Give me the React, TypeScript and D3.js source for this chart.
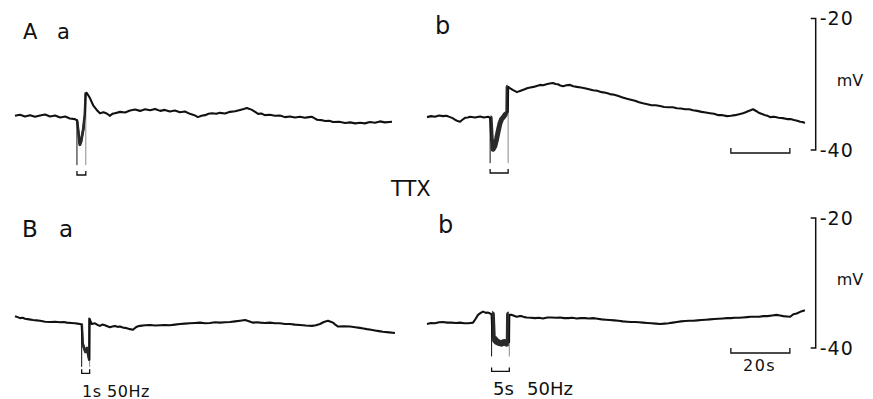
import React from "react"
import * as d3 from "d3"

// ── Data (time in s, membrane potential in mV) ────────────────────────────────

type Pt = [number, number]

const traceAa: Pt[] = [
  [0, -34.8], [1.7, -34.65], [3.4, -34.9], [5.1, -34.7], [6.8, -34.95], [8.5, -34.75], [10.2, -34.6],
  [11.9, -34.9], [13.6, -34.75], [15.3, -35.05], [17.0, -34.9], [18.6, -35.2], [20.3, -35.3], [21.0, -35.5],
  [21.1, -35.8], [21.4, -37.0], [21.8, -38.7], [22.0, -39.2], [22.4, -38.7], [22.8, -37.7], [23.2, -36.7],
  [23.5, -35.4], [23.7, -34.7], [24.0, -31.4],
  [24.3, -31.3], [25.4, -32.1], [26.5, -33.2], [27.7, -33.9], [28.8, -34.4], [30.0, -34.25], [31.1, -34.45],
  [32.2, -34.8], [33.0, -34.5], [33.9, -34.4], [35.6, -34.2], [37.3, -34.3], [39.0, -34.0], [40.7, -33.85],
  [42.4, -34.05], [44.1, -33.8], [45.8, -33.95], [47.5, -33.75], [49.2, -34.05], [50.8, -33.9], [52.5, -34.15],
  [54.2, -34.0], [55.9, -34.25], [57.6, -34.15], [59.3, -34.5], [60.8, -34.7], [62.0, -35.0], [63.2, -34.8],
  [64.4, -34.7], [65.6, -34.5], [66.8, -34.4], [68.2, -34.5], [69.5, -34.35], [71.2, -34.45], [72.9, -34.2],
  [74.6, -34.1], [76.3, -33.9], [77.5, -33.75], [78.6, -33.6], [79.5, -33.75], [80.3, -33.9], [81.4, -34.2],
  [82.4, -34.5], [83.5, -34.45], [84.7, -34.7], [86.4, -34.65], [88.1, -34.8], [89.8, -34.75], [91.5, -35.0],
  [93.2, -34.9], [94.9, -35.05], [96.6, -34.95], [98.3, -35.1], [99.6, -35.0], [100.7, -34.95], [101.6, -35.2],
  [102.4, -35.4], [103.8, -35.45], [105.1, -35.6], [106.5, -35.55], [107.8, -35.75], [109.9, -35.7], [111.9, -35.9],
  [113.6, -35.8], [115.3, -35.95], [117.0, -35.85], [118.6, -35.95], [120.3, -35.75], [122.0, -35.85],
  [123.7, -35.65], [125.4, -35.8], [127.8, -35.7],
]

const traceAb: Pt[] = [
  [0, -35.0], [1.4, -34.85], [2.7, -34.95], [4.1, -34.75], [5.4, -34.85], [6.6, -34.8], [7.8, -35.0],
  [8.7, -35.15], [9.5, -35.4], [10.4, -35.6], [11.2, -35.7], [12.0, -35.4], [12.9, -35.1], [13.8, -35.05],
  [14.6, -34.95], [16.3, -35.05], [18.0, -34.9], [19.3, -35.05], [20.7, -34.95], [21.4, -35.1],
  [21.8, -38.5], [22.4, -39.9], [23.0, -39.4], [23.6, -38.3], [24.2, -37.0], [24.7, -36.0], [25.3, -35.3],
  [25.9, -35.0], [26.5, -34.6], [27.1, -34.4], [27.4, -34.2],
  [27.5, -30.4], [28.1, -30.6], [29.2, -30.9], [30.5, -31.2], [31.3, -31.05], [32.2, -30.9], [33.1, -30.75],
  [33.9, -30.6], [35.0, -30.5], [36.1, -30.4], [37.2, -30.25], [38.3, -30.1], [39.4, -30.15], [40.5, -30.0],
  [41.6, -29.9], [42.7, -29.8], [43.6, -29.95], [44.4, -30.0], [45.2, -30.2], [46.1, -30.3], [47.3, -30.15],
  [48.5, -30.1], [49.6, -30.3], [50.8, -30.4], [52.2, -30.5], [53.5, -30.6], [54.9, -30.75], [56.3, -30.9],
  [57.7, -31.0], [59.2, -31.2], [60.6, -31.3], [62.0, -31.5], [63.5, -31.6], [64.9, -31.8], [66.3, -32.0],
  [67.8, -32.2], [69.1, -32.35], [70.5, -32.5], [71.9, -32.75], [73.2, -32.9], [74.7, -33.05], [76.1, -33.2],
  [77.5, -33.2], [79.0, -33.3], [80.4, -33.45], [81.9, -33.5], [83.3, -33.5], [84.7, -33.65], [86.1, -33.7],
  [87.5, -33.8], [88.9, -33.8], [90.2, -33.95], [91.6, -34.05], [93.1, -34.2], [94.5, -34.3], [95.9, -34.4],
  [97.3, -34.5], [98.8, -34.7], [100.2, -34.7], [101.7, -34.85], [103.0, -34.8], [104.4, -34.7], [105.8, -34.55],
  [107.1, -34.4], [108.0, -34.25], [108.8, -34.1], [109.7, -33.95], [110.5, -33.8], [111.1, -33.95],
  [111.7, -34.1], [112.3, -34.3], [112.9, -34.4], [113.8, -34.55], [114.6, -34.7], [115.5, -34.8],
  [116.3, -35.0], [117.7, -34.95], [119.2, -35.1], [120.6, -35.15], [122.0, -35.3], [123.2, -35.3],
  [124.4, -35.45], [125.5, -35.55], [126.5, -35.7], [127.3, -35.75], [128.1, -35.9],
]

const traceBa: Pt[] = [
  [0, -35.1], [0.9, -35.25], [1.7, -35.4], [2.6, -35.35], [3.4, -35.5], [4.8, -35.6], [6.1, -35.7],
  [7.3, -35.75], [8.5, -35.8], [10.2, -35.95], [11.9, -36.0], [13.6, -35.95], [15.3, -36.05], [16.5, -36.0],
  [17.6, -36.1], [19.0, -36.15], [20.3, -36.2], [21.2, -36.25], [22.0, -36.3], [22.6, -36.4],
  [22.9, -39.3], [23.4, -40.0], [23.9, -40.6], [24.4, -40.0], [24.9, -41.2], [25.2, -41.8],
  [25.3, -35.5], [25.7, -36.0], [26.0, -36.3], [27.1, -36.2], [28.0, -36.45], [28.8, -36.6], [29.6, -36.4],
  [30.5, -36.5], [31.3, -36.65], [32.2, -36.8], [33.0, -36.7], [33.9, -36.6], [34.8, -36.75], [35.6, -36.7],
  [36.5, -36.85], [37.3, -36.9], [38.2, -37.0], [39.0, -37.1], [40.0, -37.2], [41.0, -36.8], [41.7, -36.65],
  [42.4, -36.6], [44.1, -36.5], [45.8, -36.45], [47.5, -36.55], [49.2, -36.5], [50.8, -36.45], [52.5, -36.5],
  [54.2, -36.4], [55.9, -36.3], [57.6, -36.25], [59.3, -36.2], [61.0, -36.15], [62.7, -36.1], [64.4, -36.2],
  [66.1, -36.15], [67.8, -36.05], [69.5, -36.1], [71.2, -36.05], [72.9, -36.0], [74.6, -35.9], [76.3, -35.8],
  [78.0, -35.7], [79.3, -35.9], [80.7, -36.1], [82.0, -36.05], [83.1, -36.1], [84.7, -36.15], [86.4, -36.1],
  [88.1, -36.2], [89.8, -36.2], [91.5, -36.3], [93.2, -36.3], [94.9, -36.4], [96.6, -36.45], [98.6, -36.55],
  [100.7, -36.6], [102.0, -36.5], [103.4, -36.3], [104.7, -36.0], [106.1, -35.8], [107.0, -35.95],
  [107.8, -36.1], [108.7, -36.45], [109.5, -36.7], [111.5, -36.65], [113.6, -36.7], [115.3, -36.8],
  [116.9, -36.9], [118.1, -37.0], [119.3, -37.1], [120.7, -37.2], [122.0, -37.3], [123.4, -37.4],
  [124.7, -37.5], [126.8, -37.6], [128.8, -37.7],
]

const traceBb: Pt[] = [
  [0, -36.3], [1.4, -36.15], [2.7, -36.2], [4.1, -36.05], [5.4, -36.0], [6.9, -36.1], [8.3, -36.1],
  [9.8, -36.15], [11.2, -36.1], [12.6, -36.2], [13.9, -36.2], [14.8, -36.15], [15.6, -36.1], [16.5, -35.5],
  [17.3, -34.9], [18.2, -34.6], [19.0, -34.4], [20.0, -34.6], [20.7, -34.55], [21.4, -34.7], [21.9, -34.8],
  [22.2, -38.3], [23.0, -38.7], [23.6, -39.0], [24.5, -39.2], [25.3, -39.3], [26.2, -39.1], [27.0, -39.3],
  [27.8, -39.1],
  [27.9, -34.9], [28.6, -34.9], [29.5, -35.05], [30.4, -35.2], [31.3, -35.1], [32.1, -35.1], [33.0, -35.25],
  [33.8, -35.3], [35.2, -35.35], [36.6, -35.4], [38.0, -35.35], [39.3, -35.45], [40.8, -35.3], [42.2, -35.3],
  [43.7, -35.35], [45.1, -35.3], [46.5, -35.4], [47.9, -35.4], [49.3, -35.35], [50.7, -35.45], [52.1, -35.4],
  [53.5, -35.4], [54.9, -35.45], [56.3, -35.4], [57.8, -35.5], [59.2, -35.6], [60.6, -35.65], [62.0, -35.7],
  [63.5, -35.75], [64.9, -35.8], [66.4, -35.9], [67.8, -35.95], [69.2, -36.0], [70.5, -36.0], [71.9, -36.05],
  [73.2, -36.1], [74.7, -36.15], [76.1, -36.2], [77.6, -36.25], [79.0, -36.3], [80.5, -36.25], [81.9, -36.2],
  [83.3, -36.1], [84.7, -36.0], [86.1, -35.9], [87.5, -35.85], [88.9, -35.8], [90.2, -35.8], [91.7, -35.75],
  [93.1, -35.7], [94.5, -35.65], [95.9, -35.6], [97.4, -35.55], [98.8, -35.5], [100.3, -35.45], [101.7, -35.4],
  [103.0, -35.4], [104.4, -35.35], [105.8, -35.35], [107.1, -35.3], [108.5, -35.25], [109.8, -35.2],
  [111.2, -35.2], [112.6, -35.2], [114.0, -35.1], [115.4, -35.1], [117.0, -35.0], [118.5, -34.9],
  [119.7, -35.0], [120.8, -35.1], [122.0, -35.15], [123.1, -35.2], [124.2, -34.8], [125.3, -34.7],
  [126.7, -34.4], [127.4, -34.3], [128.1, -34.2],
]

// stimulus trains, one per panel (Aa, Ab, Ba, Bb)
const stimOn = [21.0, 21.4, 22.6, 21.9]
const stimOff = [24.0, 27.5, 25.3, 27.9]
const artifactFloor = [-42.3, -42.0, -42.9, -41.3]
const stimMarkLevel = [-43.8, -43.5, -43.9, -43.6]

const voltBar = [-40, -20]
const timeBar = [103, 123]

// ── Layout ────────────────────────────────────────────────────────────────────

const W = 873
const H = 399
const PX_PER_S = 2.95
const FONT = "'DejaVu Sans', sans-serif"
const INK = "#111"

const xLeft = d3.scaleLinear().domain([0, 130]).range([15, 15 + 130 * PX_PER_S])
const xRight = d3.scaleLinear().domain([0, 130]).range([427, 427 + 130 * PX_PER_S])
const yTop = d3.scaleLinear().domain([-40, -20]).range([150, 18.5])
const yBot = d3.scaleLinear().domain([-40, -20]).range([348, 218])

const panels = [
  { trace: traceAa, x: xLeft, y: yTop, band: 2.8 },
  { trace: traceAb, x: xRight, y: yTop, band: 5 },
  { trace: traceBa, x: xLeft, y: yBot, band: 2.8 },
  { trace: traceBb, x: xRight, y: yBot, band: 6.5 },
]

const maxNear = (tr: Pt[], t: number, lo: number, hi: number) =>
  d3.max(tr.filter(p => p[0] >= t - lo && p[0] <= t + hi), p => p[1]) ?? -35

export default function App() {
  const barX = 815.7
  return (
    <svg
      width={W}
      height={H}
      style={{ position: "absolute", left: 0, top: 0, background: "#fff" }}
      fontFamily={FONT}
    >
      <defs>
        {panels.map((p, i) => (
          <clipPath key={i} id={`stim-${i}`}>
            <rect
              x={p.x(stimOn[i]) + 0.5}
              y={0}
              width={p.x(stimOff[i]) - p.x(stimOn[i]) - 1}
              height={H}
            />
          </clipPath>
        ))}
      </defs>

      {panels.map((p, i) => {
        const line = d3
          .line<Pt>()
          .x(d => p.x(d[0]))
          .y(d => p.y(d[1]))
        const d = line(p.trace) || ""
        const x0 = p.x(stimOn[i])
        const x1 = p.x(stimOff[i])
        const floor = p.y(artifactFloor[i])
        const mark = p.y(stimMarkLevel[i])
        return (
          <g key={i}>
            {/* stimulus artifacts */}
            <line
              x1={x0}
              x2={x0}
              y1={p.y(maxNear(p.trace, stimOn[i], 0.7, 0.1))}
              y2={floor}
              stroke={INK}
              strokeWidth={1}
            />
            <line
              x1={x1}
              x2={x1}
              y1={p.y(maxNear(p.trace, stimOff[i], 0.1, 0.5))}
              y2={floor}
              stroke="#8a8a8a"
              strokeWidth={1}
            />
            <path
              d={d}
              fill="none"
              stroke={INK}
              strokeWidth={2.1}
              strokeLinejoin="round"
            />
            <path
              d={d}
              fill="none"
              stroke="#2a2a2a"
              strokeWidth={p.band}
              strokeLinejoin="round"
              clipPath={`url(#stim-${i})`}
            />
            {/* stimulus bracket */}
            <path
              d={`M${x0},${mark - 4}V${mark}H${x1}V${mark - 4}`}
              fill="none"
              stroke={INK}
              strokeWidth={1.3}
            />
          </g>
        )
      })}

      {/* voltage calibration bars */}
      {[yTop, yBot].map((y, i) => (
        <g key={`v${i}`} fill={INK}>
          <path
            d={`M${barX - 5},${y(voltBar[1])}H${barX}V${y(voltBar[0])}H${barX - 5}`}
            fill="none"
            stroke={INK}
            strokeWidth={1.5}
          />
          <text x={barX + 4} y={y(voltBar[1])} dy="0.36em" fontSize={19} letterSpacing={1}>
            -20
          </text>
          <text x={barX + 4} y={y(voltBar[0])} dy="0.36em" fontSize={19} letterSpacing={1}>
            -40
          </text>
          <text x={barX + 21} y={(y(voltBar[0]) + y(voltBar[1])) / 2 - 4} dy="0.36em" fontSize={16}>
            mV
          </text>
        </g>
      ))}

      {/* time calibration bars */}
      {[153, 353].map((yy, i) => (
        <path
          key={`t${i}`}
          d={`M${xRight(timeBar[0])},${yy - 5}V${yy}H${xRight(timeBar[1])}V${yy - 5}`}
          fill="none"
          stroke={INK}
          strokeWidth={1.3}
        />
      ))}
      <text x={743} y={371} fontSize={16} letterSpacing={1.5} fill={INK}>
        20s
      </text>

      {/* panel labels */}
      <g fill={INK}>
        <text x={23} y={38.5} fontSize={21}>A</text>
        <text x={57} y={38.5} fontSize={21}>a</text>
        <text x={435} y={33.5} fontSize={24}>b</text>
        <text x={391} y={196} fontSize={21}>TTX</text>
        <text x={22} y={237} fontSize={23}>B</text>
        <text x={59} y={237} fontSize={23}>a</text>
        <text x={438} y={233} fontSize={24}>b</text>
        <text x={82} y={396.5} fontSize={16} letterSpacing={0.5}>1s 50Hz</text>
        <text x={493} y={395} fontSize={18}>5s</text>
        <text x={527} y={395} fontSize={18}>50Hz</text>
      </g>
    </svg>
  )
}
